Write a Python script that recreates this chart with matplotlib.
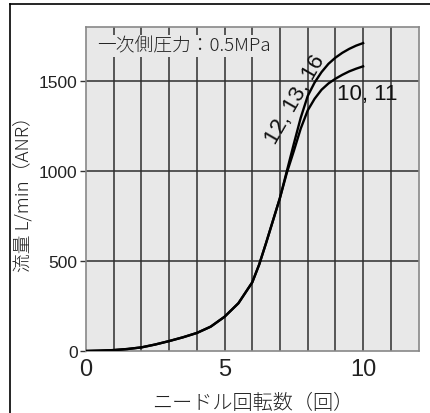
import matplotlib
matplotlib.use('Agg')
import matplotlib.pyplot as plt
from matplotlib.lines import Line2D

plt.rcParams['font.family'] = ['Noto Sans CJK JP', 'DejaVu Sans']

# data
turns_common = [0, 0.5, 1, 1.5, 2, 2.5, 3, 3.5, 4, 4.5, 5, 5.5, 6, 6.25, 6.5, 6.75, 7.0]
flow_common = [0, 2, 5, 11, 20, 36, 55, 76, 100, 135, 190, 265, 381, 480, 600, 725, 850]

turns_tail = [7.25, 7.5, 7.75, 8.0, 8.25, 8.5, 8.75, 9.0, 9.25, 9.5, 9.75, 10.0]
flow_12_13_16 = [1000, 1150, 1295, 1415, 1490, 1548, 1594, 1628, 1655, 1677, 1695, 1709]
flow_10_11 = [990, 1110, 1235, 1335, 1400, 1450, 1485, 1511, 1533, 1552, 1567, 1580]

xticks = [0, 5, 10]
yticks = [0, 500, 1000, 1500]
bg = '#e8e8e8'
num_font = ['Liberation Sans Narrow', 'Liberation Sans', 'DejaVu Sans']

fig = plt.figure(figsize=(4.3, 4.14), dpi=100)
ax = fig.add_axes([0.2, 0.1498, 0.7733, 0.7833])
ax.set_facecolor(bg)
ax.set_xlim(0, 12)
ax.set_ylim(0, 1800)

# grid
for xv in range(1, 12):
    ax.axvline(xv, color='#2e2e2e', lw=1.1, zorder=1)
for yv in yticks[1:]:
    ax.axhline(yv, color='#2e2e2e', lw=1.1, zorder=1)

for sp in ax.spines.values():
    sp.set_color('#888888')
    sp.set_linewidth(1.2)

xa = turns_common + turns_tail
ax.plot(xa, flow_common + flow_12_13_16, color='black', lw=1.7, zorder=3)
ax.plot(xa, flow_common + flow_10_11, color='black', lw=1.7, zorder=3)

ax.set_xticks(xticks)
ax.set_yticks(yticks)
ax.set_xticklabels([str(v) for v in xticks], fontsize=17, color='#222222',
                   family=['Liberation Sans', 'DejaVu Sans'])
ax.set_yticklabels([str(v) for v in yticks], fontsize=12.5, color='#222222',
                   family=num_font)
ax.tick_params(axis='x', length=0, pad=5)
ax.tick_params(axis='y', length=4, width=1.0, color='#333333', pad=2)

ax.set_xlabel('ニードル回転数（回）', fontsize=14.5, color='#222222',
              fontweight='light')
ax.xaxis.set_label_coords(0.5, -0.125)
ax.set_ylabel('流量 L/min（ANR）', fontsize=13.5, color='#222222',
              fontweight='light')
ax.yaxis.set_label_coords(-0.16, 0.5)

ax.text(0.4, 1694, '一次側圧力：0.5MPa', fontsize=13.5, color='#222222',
        fontweight='light', ha='left', va='center', zorder=4,
        bbox=dict(facecolor=bg, edgecolor='none', pad=1.5))
ax.text(7.55, 1400, '12, 13, 16', fontsize=16, rotation=60, color='#111111',
        ha='center', va='center', zorder=4,
        family=['Liberation Sans', 'DejaVu Sans'])
ax.text(9.05, 1428, '10, 11', fontsize=16, color='#111111',
        ha='left', va='center', zorder=4,
        family=['Liberation Sans', 'DejaVu Sans'])

# outer frame lines
fig.add_artist(Line2D([10 / 430, 10 / 430], [0, 409 / 414], color='black', lw=1.2,
                      transform=fig.transFigure))
fig.add_artist(Line2D([10 / 430, 1], [409 / 414, 409 / 414], color='black', lw=1.2,
                      transform=fig.transFigure))

fig.savefig('out.png', dpi=100)
